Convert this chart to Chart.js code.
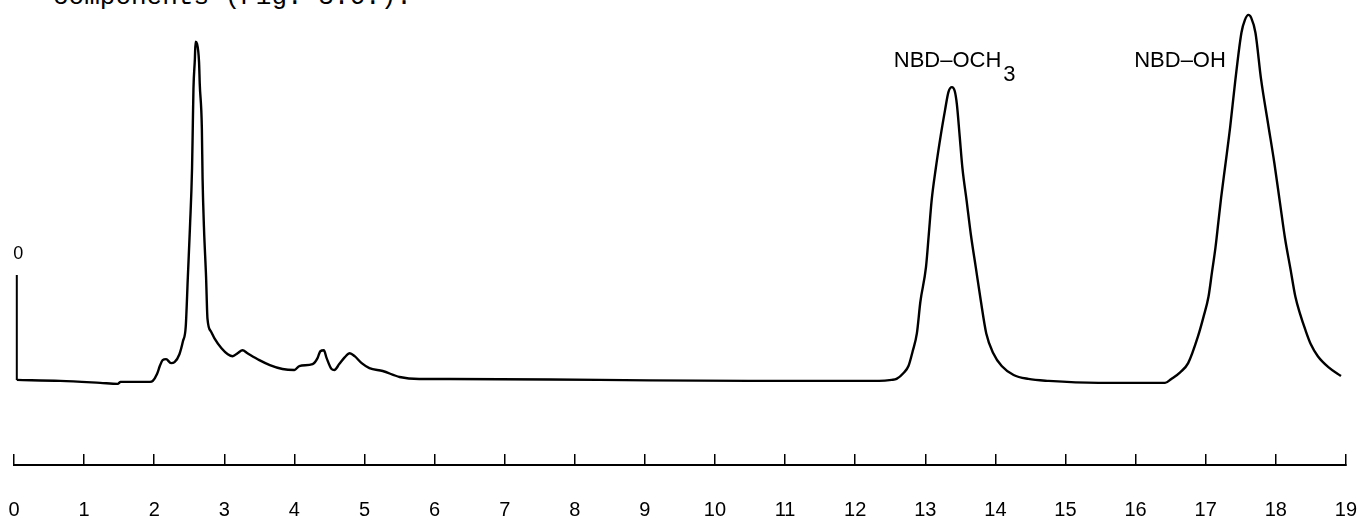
<!DOCTYPE html>
<html>
<head>
<meta charset="utf-8">
<script src="https://cdn.jsdelivr.net/npm/chart.js@4.4.1/dist/chart.umd.min.js"></script>
<style>
html,body{margin:0;padding:0;background:#fff;overflow:hidden;}
#wrap{position:relative;width:1357px;height:529px;}
#pageText{position:absolute;left:53px;top:-16px;font-family:"Liberation Mono",monospace;font-size:26px;line-height:26px;color:#000;white-space:pre;}
canvas{position:absolute;left:0;top:0;}
</style>
</head>
<body>
<div id="wrap">
  <div id="pageText">components (Fig. 3.6.).</div>
  <canvas id="chrom" width="1357" height="529"></canvas>
</div>
<script>
// retention time (ruler units) and detector response (arbitrary units)
const retentionTime = [0.04,0.66,1.23,1.48,1.52,1.94,1.98,2.04,2.08,2.12,2.17,2.24,2.29,2.36,2.41,2.45,2.48,2.51,2.54,2.55,2.56,2.58,2.59,2.61,2.64,2.65,2.68,2.69,2.71,2.74,2.76,2.81,2.86,2.96,3.05,3.12,3.19,3.26,3.33,3.50,3.65,3.83,4.00,4.07,4.26,4.33,4.37,4.42,4.46,4.53,4.57,4.64,4.72,4.79,4.86,4.96,5.07,5.26,5.50,5.78,6.21,8.35,10.48,12.34,12.52,12.59,12.69,12.76,12.82,12.88,12.93,13.01,13.05,13.09,13.15,13.22,13.28,13.33,13.38,13.42,13.45,13.49,13.53,13.59,13.65,13.72,13.79,13.87,13.97,14.09,14.26,14.47,14.76,15.47,16.18,16.42,16.51,16.64,16.75,16.89,16.97,17.04,17.09,17.14,17.18,17.22,17.28,17.35,17.42,17.51,17.56,17.61,17.65,17.71,17.79,17.89,17.98,18.06,18.13,18.21,18.28,18.35,18.42,18.50,18.60,18.75,18.93];
const response = [0.5,0.25,-0.25,-0.5,0,0,0.25,2,4,5.5,5.75,4.75,5,7,10.25,14,26.5,39,54,64,74,81.5,86,85.5,80.75,75.25,64,51.5,39,26.5,16,12.75,11,8.5,7,6.5,7.25,8,7.25,5.5,4.25,3.25,3,4,4.5,6,7.75,8,6,3.25,3,4.5,6.25,7.25,6.5,4.75,3.5,2.75,1.25,0.75,0.75,0.5,0.25,0.25,0.5,0.75,2.25,4,7.75,12.25,20.25,29,37.25,45.75,54,62.25,68.5,73.25,74.5,73.5,70.25,62.25,54,45.75,37.25,29,20.75,12.25,7.25,4,1.75,0.75,0.25,-0.25,-0.25,-0.25,0.75,2.5,4.75,11.5,16.5,21.5,27.75,34,40.25,46.5,54.75,64.5,75.75,88.25,91.5,92.75,92,88.25,76.5,65.25,55.25,45.25,36.5,28.5,21.5,17,13.25,9.5,6.5,3.75,1.5];

// zero marker pen stroke at start of run
const markerTime = [0.04, 0.04];
const markerLevel = [27, 0.5];

// ruler
const rulerTicks = [0,1,2,3,4,5,6,7,8,9,10,11,12,13,14,15,16,17,18,19];

function toPoints(xs, ys){
    return xs.map((x,i)=>({x:x, y:ys[i]}));
}

// peak names + zero label, anchored in data units
const annotate = {
    id:'annotate',
    afterDatasetsDraw(chart){
        const {ctx, scales:{x, y}} = chart;
        ctx.save();
        ctx.fillStyle = '#000';
        ctx.textBaseline = 'alphabetic';
        ctx.textAlign = 'left';
        ctx.font = '22px "Liberation Sans", Arial, sans-serif';
        const px1 = x.getPixelForValue(12.55), py1 = y.getPixelForValue(79.5);
        ctx.fillText('NBD–OCH', px1, py1);
        const w = ctx.measureText('NBD–OCH').width;
        ctx.fillText('3', px1 + w + 2, y.getPixelForValue(76));
        ctx.fillText('NBD–OH', x.getPixelForValue(15.98), y.getPixelForValue(79.5));

        ctx.font = '18px "Liberation Sans", Arial, sans-serif';
        ctx.textAlign = 'center';
        ctx.textBaseline = 'middle';
        ctx.fillText('0', x.getPixelForValue(0.06), y.getPixelForValue(32.25));
        ctx.restore();
    }
};

new Chart(document.getElementById('chrom').getContext('2d'), {
    type:'scatter',
    data:{
        datasets:[
            {label:'trace', data:toPoints(retentionTime, response), showLine:true,
             borderColor:'#000', borderWidth:2.4, pointRadius:0, cubicInterpolationMode:'monotone'},
            {label:'marker', data:toPoints(markerTime, markerLevel), showLine:true,
             borderColor:'#000', borderWidth:2, pointRadius:0}
        ]
    },
    options:{
        responsive:false,
        animation:false,
        layout:{padding:{top:5, left:14, right:9, bottom:0}},
        plugins:{legend:{display:false}, tooltip:{enabled:false}},
        scales:{
            x:{
                type:'linear', min:0, max:19,
                afterBuildTicks: s => { s.ticks = rulerTicks.map(v=>({value:v})); },
                afterFit: s => { s.height = 64; },
                ticks:{color:'#000', padding:0, autoSkip:false,
                       font:{family:'"Liberation Sans", Arial, sans-serif', size:20, lineHeight:'112px'}},
                grid:{drawOnChartArea:false, drawTicks:true, tickLength:-11, color:'#000', lineWidth:1.5},
                border:{display:true, color:'#000', width:2}
            },
            y:{display:false, min:-21, max:95.25}
        }
    },
    plugins:[annotate]
});
</script>
</body>
</html>
